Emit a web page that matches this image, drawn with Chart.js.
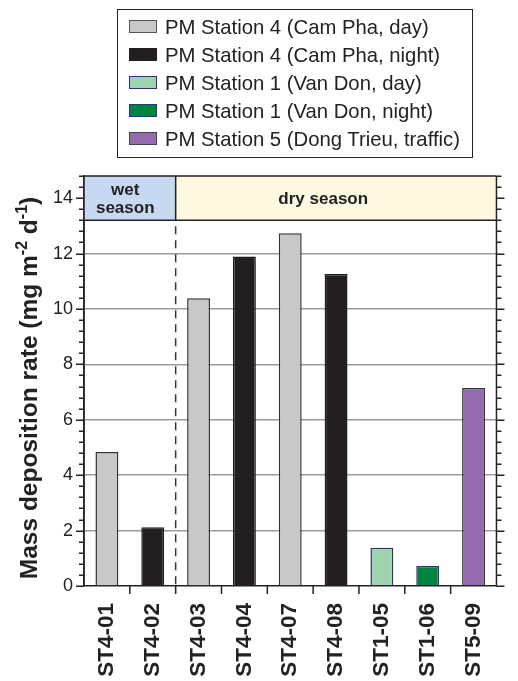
<!DOCTYPE html>
<html>
<head>
<meta charset="utf-8">
<script src="https://cdn.jsdelivr.net/npm/chart.js@4.4.1/dist/chart.umd.min.js"></script>
<style>
    html, body { margin: 0; padding: 0; background: #fff; }
    #wrap { position: relative; width: 518px; height: 681px; }
    #chart { position: absolute; left: 0; top: 0; }
    #legend {
        position: absolute; left: 117px; top: 9px; width: 356px; height: 149px;
        border: 1.5px solid #222; box-sizing: border-box;
        font-family: Arial, "Liberation Sans", sans-serif; font-size: 20.3px; color: #222;
    }
    .row { position: absolute; left: 0; height: 28px; line-height: 28px; white-space: nowrap; }
    .swatch {
        position: absolute; left: 11px; top: 7px; width: 28px; height: 13px;
        box-sizing: border-box; border: 1.5px solid #333;
    }
    .label { position: absolute; left: 47px; top: 0; }
</style>
</head>
<body>
<div id="wrap">
    <canvas id="chart" width="518" height="681"></canvas>
    <div id="legend"></div>
</div>
<script>
// data
const categories = ['ST4-01', 'ST4-02', 'ST4-03', 'ST4-04', 'ST4-07', 'ST4-08', 'ST1-05', 'ST1-06', 'ST5-09'];
const depositionRates = [4.84, 2.12, 10.39, 11.89, 12.73, 11.26, 1.38, 0.72, 7.15];
const barFill = ['#c7c8ca', '#231f20', '#c7c8ca', '#231f20', '#c7c8ca', '#231f20', '#9dd4ac', '#00843f', '#946bad'];
const barBorder = ['#333333', '#231f20', '#333333', '#231f20', '#333333', '#231f20', '#2e3182', '#2e3182', '#333333'];
const yTicks = [0, 2, 4, 6, 8, 10, 12, 14];

const legendLabels = [
    'PM Station 4 (Cam Pha, day)',
    'PM Station 4 (Cam Pha, night)',
    'PM Station 1 (Van Don, day)',
    'PM Station 1 (Van Don, night)',
    'PM Station 5 (Dong Trieu, traffic)'
];
const legendFill = ['#c7c8ca', '#231f20', '#9dd4ac', '#00843f', '#946bad'];
const legendBorder = ['#555555', '#231f20', '#2e3182', '#2e3182', '#444444'];

const wetCount = 2;          // first two samples are wet season
const bandBottom = 13.2;     // season band sits above this value
const yMax = 14.8;

// build html legend
const legendEl = document.getElementById('legend');
legendLabels.forEach((text, i) => {
    const row = document.createElement('div');
    row.className = 'row';
    row.style.top = (3 + i * 28) + 'px';
    const sw = document.createElement('span');
    sw.className = 'swatch';
    sw.style.background = legendFill[i];
    sw.style.borderColor = legendBorder[i];
    const lb = document.createElement('span');
    lb.className = 'label';
    lb.textContent = text;
    row.appendChild(sw);
    row.appendChild(lb);
    legendEl.appendChild(row);
});

const FONT = 'Arial, "Liberation Sans", sans-serif';

// season band, dashed divider, ticks, right frame
const decorPlugin = {
    id: 'decor',
    afterDatasetsDraw(chart) {
        const { ctx, chartArea, scales } = chart;
        const x = scales.x, y = scales.y;
        const split = (x.getPixelForValue(wetCount - 1) + x.getPixelForValue(wetCount)) / 2;
        const bandY = y.getPixelForValue(bandBottom);
        const top = chartArea.top, bottom = chartArea.bottom;
        const left = chartArea.left, right = chartArea.right;

        ctx.save();
        // band fills
        ctx.fillStyle = '#c6d9f1';
        ctx.fillRect(left, top, split - left, bandY - top);
        ctx.fillStyle = '#fdf9e1';
        ctx.fillRect(split, top, right - split, bandY - top);

        ctx.strokeStyle = '#222';
        ctx.lineWidth = 1.5;
        ctx.beginPath();
        ctx.moveTo(left, top); ctx.lineTo(right, top);
        ctx.moveTo(left, bandY); ctx.lineTo(right, bandY);
        ctx.moveTo(split, top); ctx.lineTo(split, bandY);
        ctx.moveTo(right, top); ctx.lineTo(right, bottom);
        ctx.moveTo(left, top); ctx.lineTo(left, bottom);
        ctx.stroke();

        // dashed divider
        ctx.setLineDash([8, 6]);
        ctx.strokeStyle = '#333';
        ctx.beginPath();
        ctx.moveTo(split, bandY + 6);
        ctx.lineTo(split, bottom);
        ctx.stroke();
        ctx.setLineDash([]);

        // band text
        ctx.fillStyle = '#222';
        ctx.font = 'bold 17px ' + FONT;
        ctx.textAlign = 'center';
        ctx.textBaseline = 'alphabetic';
        const wetX = left + (split - left) * 0.45;
        ctx.fillText('wet', wetX, top + 19);
        ctx.fillText('season', wetX, top + 37);
        ctx.fillText('dry season', split + (right - split) * 0.46, top + 28);

        // y ticks, left and right, pointing outward
        ctx.strokeStyle = '#222';
        ctx.lineWidth = 1.5;
        ctx.beginPath();
        for (let i = 0; i * 0.4 <= yMax + 1e-6; i++) {
            const py = Math.round(y.getPixelForValue(i * 0.4)) + 0.25;
            const len = i % 5 === 0 ? 8 : 5;
            ctx.moveTo(left - len, py); ctx.lineTo(left, py);
            ctx.moveTo(right, py); ctx.lineTo(right + len, py);
        }
        // x ticks at category boundaries
        for (let i = 1; i < categories.length; i++) {
            const px = (x.getPixelForValue(i - 1) + x.getPixelForValue(i)) / 2;
            ctx.moveTo(px, bottom); ctx.lineTo(px, bottom + 8);
        }
        ctx.stroke();
        ctx.restore();
    }
};

// y axis title with superscripts
const yTitlePlugin = {
    id: 'ytitle',
    afterDraw(chart) {
        const { ctx } = chart;
        const parts = [
            ['Mass deposition rate (mg m', false],
            ['-2', true],
            [' d', false],
            ['-1', true],
            [')', false]
        ];
        const big = 'bold 24.5px ' + FONT, small = 'bold 16px ' + FONT;
        ctx.save();
        let total = 0;
        parts.forEach(([t, sup]) => { ctx.font = sup ? small : big; total += ctx.measureText(t).width; });
        ctx.translate(37, 388);
        ctx.rotate(-Math.PI / 2);
        ctx.fillStyle = '#222';
        ctx.textBaseline = 'alphabetic';
        ctx.textAlign = 'left';
        let cx = -total / 2;
        parts.forEach(([t, sup]) => {
            ctx.font = sup ? small : big;
            ctx.fillText(t, cx, sup ? -10 : 0);
            cx += ctx.measureText(t).width;
        });
        ctx.restore();
    }
};

new Chart(document.getElementById('chart'), {
    type: 'bar',
    data: {
        labels: categories,
        datasets: [{
            data: depositionRates,
            backgroundColor: barFill,
            borderColor: barBorder,
            borderWidth: 1.5,
            categoryPercentage: 1,
            barPercentage: 0.5
        }]
    },
    options: {
        responsive: false,
        animation: false,
        layout: { padding: { top: 176, right: 8, left: 0, bottom: 0 } },
        plugins: {
            legend: { display: false },
            tooltip: { enabled: false }
        },
        scales: {
            x: {
                grid: { display: false, drawTicks: false },
                border: { display: true, color: '#222', width: 1.5 },
                ticks: {
                    autoSkip: false,
                    minRotation: 90,
                    maxRotation: 90,
                    padding: 17,
                    color: '#222',
                    font: { family: FONT, size: 22.5, weight: 'bold' }
                },
                afterFit(scale) { scale.height = 95; }
            },
            y: {
                min: 0,
                max: yMax,
                afterBuildTicks(scale) { scale.ticks = yTicks.map(v => ({ value: v })); },
                grid: {
                    drawTicks: false,
                    lineWidth: 1.5,
                    color: ctx => (ctx.tick && ctx.tick.value > 0 && ctx.tick.value < bandBottom) ? '#9b9b9b' : 'rgba(0,0,0,0)'
                },
                border: { display: true, color: '#222', width: 1.5 },
                ticks: {
                    padding: 11,
                    color: '#222',
                    font: { family: FONT, size: 18 }
                },
                afterFit(scale) { scale.width = 84; }
            }
        }
    },
    plugins: [decorPlugin, yTitlePlugin]
});
</script>
</body>
</html>
